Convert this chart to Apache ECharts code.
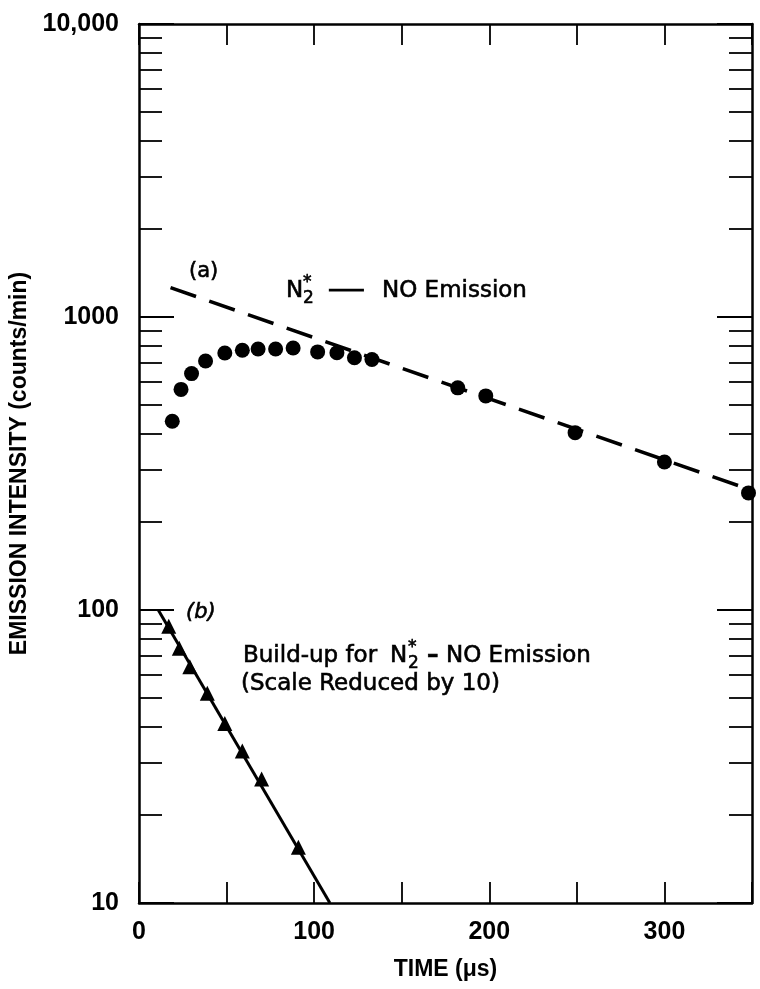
<!DOCTYPE html>
<html><head><meta charset="utf-8">
<script src="https://cdn.jsdelivr.net/npm/echarts@6.0.0/dist/echarts.min.js"></script>
<style>html,body{margin:0;padding:0;background:#fff}#c{width:760px;height:989px}</style>
</head><body><div id="c"></div>
<script>
// curve (a): N2* - NO emission (circles) and its dashed fit
const timeA = [19, 24, 30, 38, 49, 59, 68, 78, 88, 102, 113, 123, 133, 182, 198, 249, 300, 348];
const intensityA = [441, 566, 641, 708, 754, 770, 778, 778, 784, 760, 755, 726, 716, 573, 538, 403, 320, 251];
const fitATime = [18, 350];
const fitAValue = [1260, 256];
// curve (b): build-up (triangles) and its solid fit
const timeB = [17, 23, 29, 39, 49, 59, 70, 91];
const intensityB = [88, 74, 64, 52, 41, 33, 26.5, 15.5];
const fitBTime = [11, 109];
const fitBValue = [100, 10];
// tick labels
const xTickValues = [0, 100, 200, 300];
const xTickLabels = ['0', '100', '200', '300'];
const yTickValues = [10, 100, 1000, 10000];
const yTickLabels = ['10', '100', '1000', '10,000'];

const zip = (a, b) => a.map((v, i) => [v, b[i]]);
const FONT = '"Liberation Sans", Arial, sans-serif';
const AFONT = '"DejaVu Sans", sans-serif';
const chart = echarts.init(document.getElementById('c'), null, {renderer: 'canvas'});

const lineStyleAxis = {color: '#000', width: 2.5};
function xAxisCfg(pos, labels) {
  return {
    type: 'value', position: pos, min: 0, max: 350, interval: 50,
    axisLine: {show: true, onZero: false, lineStyle: lineStyleAxis},
    axisTick: {show: true, inside: true, length: 21, lineStyle: {color: '#000', width: 1.8}},
    splitLine: {show: false},
    axisLabel: labels ? {
      show: true, margin: 17, color: '#000', fontFamily: FONT, fontSize: 25, fontWeight: 'bold',
      formatter: v => { const i = xTickValues.indexOf(v); return i >= 0 ? xTickLabels[i] : ''; }
    } : {show: false},
    name: labels ? 'TIME (μs)' : '', nameLocation: 'middle', nameGap: 55,
    nameTextStyle: {color: '#000', fontFamily: FONT, fontSize: 23, fontWeight: 'bold'}
  };
}
function yAxisCfg(pos, labels) {
  return {
    type: 'log', logBase: 10, position: pos, min: 10, max: 10000,
    axisLine: {show: true, onZero: false, lineStyle: lineStyleAxis},
    axisTick: {show: true, inside: true, length: 35, lineStyle: {color: '#000', width: 1.8}},
    minorTick: {show: true, splitNumber: 9, length: 23, lineStyle: {color: '#000', width: 1.8}},
    splitLine: {show: false}, minorSplitLine: {show: false},
    axisLabel: labels ? {
      show: true, margin: 20, color: '#000', fontFamily: FONT, fontSize: 25, fontWeight: 'bold',
      formatter: v => { const i = yTickValues.indexOf(Math.round(v)); return i >= 0 ? yTickLabels[i] : ''; }
    } : {show: false},
    name: labels ? 'EMISSION INTENSITY (counts/min)' : '', nameLocation: 'middle', nameGap: 105, nameRotate: 90,
    nameTextStyle: {color: '#000', fontFamily: FONT, fontSize: 23, fontWeight: 'bold'}
  };
}

function txt(x, y, s, font, extra) {
  return Object.assign({type: 'text', x: x, y: y, style: {text: s, fill: '#000', stroke: '#000', lineWidth: 0.6,
    font: font, textVerticalAlign: 'middle', textAlign: 'left'}}, extra || {});
}
const F = '23px ' + AFONT, FS = '17px ' + AFONT;

const graphics = [
  txt(189, 272, '(a)', '21px ' + AFONT),
  txt(286, 291, 'N', F),
  txt(303, 283, '*', FS),
  txt(303, 299, '2', FS),
  txt(328, 291, '—', 23 ? '23px ' + AFONT : F, {scaleX: 1.6, style: {text: '—', fill: '#000', stroke: '#000', lineWidth: 1.2, font: '23px ' + AFONT, textVerticalAlign: 'middle', textAlign: 'left'}}),
  txt(382, 291, 'NO Emission', F),
  txt(186, 613, '(b)', 'italic 21px ' + AFONT),
  txt(243, 656, 'Build-up for', F),
  txt(390, 656, 'N', F),
  txt(408, 648, '*', FS),
  txt(408, 664, '2', FS),
  txt(427, 656, '–', 'bold 23px ' + AFONT),
  txt(446, 656, 'NO Emission', F),
  txt(241, 684, '(Scale Reduced by 10)', F)
];

chart.setOption({
  animation: false,
  backgroundColor: '#fff',
  grid: {left: 139, right: 8, top: 24, bottom: 86, containLabel: false},
  xAxis: [xAxisCfg('bottom', true), xAxisCfg('top', false)],
  yAxis: [yAxisCfg('left', true), yAxisCfg('right', false)],
  graphic: graphics,
  series: [
    {type: 'line', data: zip(fitATime, fitAValue), showSymbol: false, symbol: 'none',
     lineStyle: {color: '#000', width: 3.5, type: [27, 14]}, z: 2},
    {type: 'scatter', data: zip(timeA, intensityA), symbol: 'circle', symbolSize: 15,
     itemStyle: {color: '#000', opacity: 1}, z: 3},
    {type: 'line', data: zip(fitBTime, fitBValue), showSymbol: false, symbol: 'none',
     lineStyle: {color: '#000', width: 3}, z: 2},
    {type: 'scatter', data: zip(timeB, intensityB), symbol: 'triangle', symbolSize: 15,
     itemStyle: {color: '#000', opacity: 1}, z: 3}
  ]
});
</script></body></html>
